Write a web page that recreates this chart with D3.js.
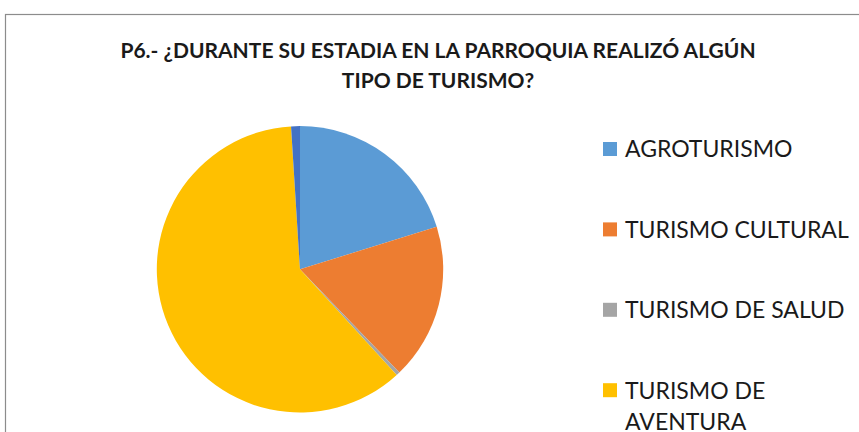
<!DOCTYPE html>
<html>
<head>
<meta charset="utf-8">
<script src="https://cdn.jsdelivr.net/npm/d3@7"></script>
<style>
  body { margin: 0; background: #fff; }
  svg { display: block; }
</style>
</head>
<body>
<div class="container"></div>
<script>
var categories = ["AGROTURISMO", "TURISMO CULTURAL", "TURISMO DE SALUD", "TURISMO DE AVENTURA", "NINGUNO"];
var values = [20.2, 17.6, 0.4, 60.8, 1.0];
var colors = ["#5B9BD5", "#ED7D31", "#A5A5A5", "#FFC000", "#4472C4"];
var titleLines = ["P6.- ¿DURANTE SU ESTADIA EN LA PARROQUIA REALIZÓ ALGÚN", "TIPO DE TURISMO?"];
var legendLines = [["AGROTURISMO"], ["TURISMO CULTURAL"], ["TURISMO DE SALUD"], ["TURISMO DE", "AVENTURA"], ["NINGUNO"]];

var width = 859, height = 432;

var svg = d3.select(".container")
  .append("svg")
    .attr("width", width)
    .attr("height", height);

// chart frame
svg.append("rect")
  .attr("x", 5.5)
  .attr("y", 14.5)
  .attr("width", 900)
  .attr("height", 500)
  .attr("fill", "none")
  .attr("stroke", "#8c8c8c")
  .attr("stroke-width", 1.2);

// title
svg.append("g")
  .selectAll("text")
  .data(titleLines)
  .enter()
  .append("text")
    .attr("x", 438)
    .attr("y", function(d, i) { return 57.5 + i * 30; })
    .attr("text-anchor", "middle")
    .style("font-family", "Lato, 'Open Sans', sans-serif")
    .style("font-weight", "bold")
    .style("font-size", "21px")
    .attr("fill", "#1a1a1a")
    .text(function(d) { return d; });

var data = categories.map(function(c, i) { return {name: c, value: values[i], color: colors[i]}; });

var pie = d3.pie()
  .sort(null)
  .value(function(d) { return d.value; });

var arc = d3.arc()
  .innerRadius(0)
  .outerRadius(143.2);

var g = svg.append("g")
  .attr("transform", "translate(300,269.3)");

g.selectAll("path")
  .data(pie(data))
  .enter()
  .append("path")
    .attr("d", arc)
    .attr("fill", function(d) { return d.data.color; });

// legend
var legend = svg.append("g")
  .attr("transform", "translate(603,0)");

var item = legend.selectAll("g")
  .data(data)
  .enter()
  .append("g")
    .attr("transform", function(d, i) { return "translate(0," + (149 + i * 80.4) + ")"; });

item.append("rect")
  .attr("x", 0)
  .attr("y", -7)
  .attr("width", 14)
  .attr("height", 14)
  .attr("fill", function(d) { return d.color; });

item.append("text")
  .attr("x", 22)
  .attr("y", 8.3)
  .style("font-family", "Lato, 'Open Sans', sans-serif")
  .style("font-size", "23px")
  .attr("fill", "#1a1a1a")
  .selectAll("tspan")
  .data(function(d, i) { return legendLines[i]; })
  .enter()
  .append("tspan")
    .attr("x", 22)
    .attr("dy", function(d, i) { return i === 0 ? 0 : 31.5; })
    .text(function(d) { return d; });
</script>
</body>
</html>
